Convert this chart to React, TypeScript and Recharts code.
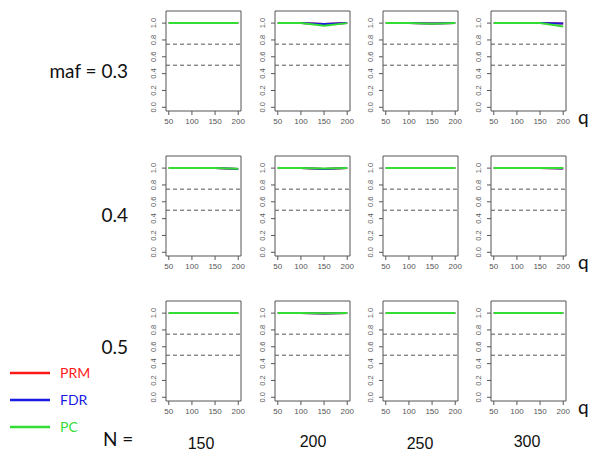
import React from "react";
import { LineChart, Line, XAxis, YAxis, ReferenceLine, ReferenceArea } from "recharts";

// q values on the x axis of every small panel
const Q = [50, 100, 150, 200];
const X_TICKS = [50, 100, 150, 200];
const Y_TICKS = [0, 0.2, 0.4, 0.6, 0.8, 1.0];
const N_LABELS = ["150", "200", "250", "300"];
const MAF_LABELS = ["maf = 0.3", "0.4", "0.5"];

// power per panel: one row per N (150, 200, 250, 300), values at each q
const PRM_03 = [[1, 1, 1, 1], [1, 1, 0.99, 1], [1, 1, 0.995, 1], [1, 1, 1, 0.995]];
const FDR_03 = [[1, 1, 1, 1], [1, 1, 0.99, 1], [1, 1, 0.995, 1], [1, 1, 1, 0.995]];
const PC_03 = [[1, 1, 1, 1], [1, 1, 0.97, 1], [1, 1, 0.993, 1], [1, 1, 1, 0.96]];

const PRM_04 = [[1, 1, 1, 0.99], [1, 1, 0.99, 1], [1, 1, 1, 1], [1, 1, 1, 0.995]];
const FDR_04 = [[1, 1, 1, 0.99], [1, 1, 0.99, 1], [1, 1, 1, 1], [1, 1, 1, 0.995]];
const PC_04 = [[1, 1, 1, 0.992], [1, 1, 0.996, 1], [1, 1, 1, 1], [1, 1, 1, 1]];

const PRM_05 = [[1, 1, 1, 1], [1, 1, 0.995, 1], [1, 1, 1, 1], [1, 1, 1, 1]];
const FDR_05 = [[1, 1, 1, 1], [1, 1, 0.995, 1], [1, 1, 1, 1], [1, 1, 1, 1]];
const PC_05 = [[1, 1, 1, 1], [1, 1, 0.998, 1], [1, 1, 1, 1], [1, 1, 1, 1]];

const ROWS = [
  { prm: PRM_03, fdr: FDR_03, pc: PC_03 },
  { prm: PRM_04, fdr: FDR_04, pc: PC_04 },
  { prm: PRM_05, fdr: FDR_05, pc: PC_05 },
];

const RED = "#ff1a1a";
const BLUE = "#1a1ae0";
const GREEN = "#33dd33";
const AXIS = "#555";

// panel layout
const COL_X = [166, 275, 383, 491];
const ROW_Y = [11, 156, 301];
const BOX_W = 75;
const BOX_H = 100;
const LEFT = 30;
const TOP = 5;
const BOTTOM = 25;
const RIGHT = 5;

const tickFont = "'Liberation Sans', Arial, sans-serif";
const labelFont = "Lato, 'Open Sans', sans-serif";

function YTick(props: any) {
  const { x, y, payload } = props;
  return (
    <text
      x={x}
      y={y}
      transform={`rotate(-90 ${x} ${y})`}
      textAnchor="middle"
      fontSize={7.5}
      fill="#555"
      fontFamily={tickFont}
    >
      {Number(payload.value).toFixed(1)}
    </text>
  );
}

function Panel({ prm, fdr, pc }: { prm: number[]; fdr: number[]; pc: number[] }) {
  const data = Q.map((q, i) => ({ q, prm: prm[i], fdr: fdr[i], pc: pc[i] }));
  return (
    <LineChart
      width={LEFT + BOX_W + RIGHT}
      height={TOP + BOX_H + BOTTOM}
      data={data}
      margin={{ top: TOP, right: RIGHT, bottom: 0, left: 0 }}
    >
      <XAxis
        dataKey="q"
        type="number"
        domain={[44, 206]}
        ticks={X_TICKS}
        allowDataOverflow
        height={BOTTOM}
        axisLine={false}
        tickSize={4}
        tickMargin={3}
        tickLine={{ stroke: AXIS }}
        tick={{ fontSize: 8, fill: "#555", fontFamily: tickFont }}
        interval={0}
      />
      <YAxis
        type="number"
        domain={[-0.044, 1.144]}
        ticks={Y_TICKS}
        allowDataOverflow
        width={LEFT}
        axisLine={false}
        tickSize={4}
        tickMargin={6}
        tickLine={{ stroke: AXIS }}
        tick={<YTick />}
        interval={0}
      />
      <ReferenceArea
        x1={44}
        x2={206}
        y1={-0.044}
        y2={1.144}
        fill="none"
        fillOpacity={0}
        stroke={AXIS}
        strokeWidth={1}
        ifOverflow="visible"
      />
      <ReferenceLine y={0.75} stroke={AXIS} strokeDasharray="4 3" />
      <ReferenceLine y={0.5} stroke={AXIS} strokeDasharray="4 3" />
      <Line dataKey="prm" stroke={RED} strokeWidth={2} dot={false} isAnimationActive={false} />
      <Line dataKey="fdr" stroke={BLUE} strokeWidth={2} dot={false} isAnimationActive={false} />
      <Line dataKey="pc" stroke={GREEN} strokeWidth={2} dot={false} isAnimationActive={false} />
    </LineChart>
  );
}

const LEGEND = [
  { name: "PRM", color: RED, y: 373 },
  { name: "FDR", color: BLUE, y: 400 },
  { name: "PC", color: GREEN, y: 427 },
];

export default function App() {
  return (
    <div
      style={{
        position: "absolute",
        left: 0,
        top: 0,
        width: 600,
        height: 459,
        background: "#fff",
        overflow: "hidden",
      }}
    >
      <svg width={600} height={459} style={{ position: "absolute", left: 0, top: 0 }}>
        {MAF_LABELS.map((t, r) => (
          <text
            key={t}
            x={128}
            y={[78, 222, 354][r]}
            textAnchor="end"
            fontSize={19}
            fontFamily={labelFont}
            fill="#111"
          >
            {t}
          </text>
        ))}
        {ROW_Y.map((y) => (
          <text key={y} x={578} y={y + 113} fontSize={19} fontFamily={labelFont} fill="#111">
            q
          </text>
        ))}
        {LEGEND.map((l) => (
          <g key={l.name}>
            <line x1={10} x2={50} y1={l.y} y2={l.y} stroke={l.color} strokeWidth={2.5} />
            <text x={60} y={l.y + 5} fontSize={14} fontFamily={labelFont} fill={l.color}>
              {l.name}
            </text>
          </g>
        ))}
        <text x={103} y={446} fontSize={19} fontFamily={labelFont} fill="#111">
          N =
        </text>
        {N_LABELS.map((t, c) => (
          <text
            key={t}
            x={[201, 313, 420, 527][c]}
            y={[449, 447, 449, 447][c]}
            textAnchor="middle"
            fontSize={16}
            fontFamily={tickFont}
            fill="#111"
          >
            {t}
          </text>
        ))}
      </svg>
      {ROWS.map((row, r) =>
        COL_X.map((x, c) => (
          <div
            key={`${r}-${c}`}
            style={{ position: "absolute", left: x - LEFT, top: ROW_Y[r] - TOP }}
          >
            <Panel prm={row.prm[c]} fdr={row.fdr[c]} pc={row.pc[c]} />
          </div>
        ))
      )}
    </div>
  );
}
